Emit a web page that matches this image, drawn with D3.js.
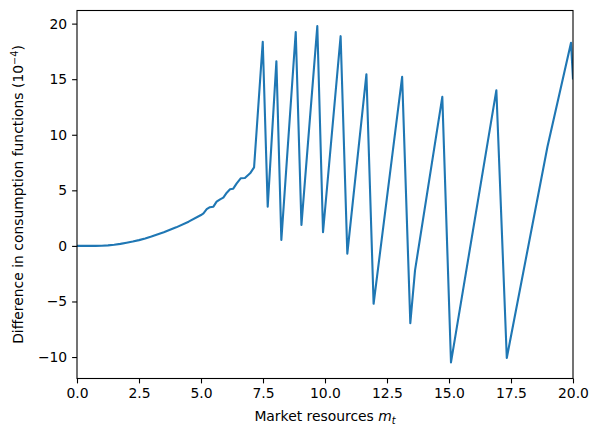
<!DOCTYPE html>
<html>
<head>
<meta charset="utf-8">
<script src="https://cdn.jsdelivr.net/npm/d3@7"></script>
<style>
  body { margin:0; background:#fff; }
  .canvas { width:597px; height:436px; }
  text { font-family:"DejaVu Sans", sans-serif; fill:#000; }
</style>
</head>
<body>
<div class="canvas" id="canvas"></div>
<script>
// values
var mValues = [0, 0.5, 0.75, 1.0, 1.25, 1.5, 1.75, 2.0, 2.25, 2.5, 2.75, 3.0, 3.5, 4.0, 4.5, 5.0,
    5.1, 5.23, 5.36, 5.5, 5.63, 5.77, 5.9, 6.04, 6.17, 6.3, 6.44, 6.6, 6.77, 6.98, 7.14,
    7.49, 7.69, 8.04, 8.24, 8.82, 9.05, 9.69, 9.92, 10.63, 10.9, 11.67, 11.96,
    13.11, 13.44, 13.63, 14.73, 15.08, 16.91, 17.33, 18.97, 19.92, 20.0];
var diffValues = [0, 0.0, 0.005, 0.02, 0.05, 0.1, 0.18, 0.28, 0.39, 0.52, 0.67, 0.84, 1.22, 1.67, 2.18, 2.78,
    2.93, 3.3, 3.48, 3.53, 3.98, 4.19, 4.34, 4.79, 5.09, 5.15, 5.63, 6.08, 6.11, 6.53, 7.07,
    18.36, 3.53, 16.62, 0.54, 19.25, 1.89, 19.77, 1.23, 18.87, -0.7, 15.45, -5.21,
    15.21, -6.95, -2.2, 13.41, -10.48, 14.01, -10.08, 8.92, 18.27, 14.98];
var xTicks = [0, 2.5, 5, 7.5, 10, 12.5, 15, 17.5, 20];
var yTicks = [-10, -5, 0, 5, 10, 15, 20];

var m = {t:10.5,r:24,b:57.5,l:77};
var outerWidth = 597,
    outerHeight = 436;
var w = outerWidth - m.l - m.r,
    h = outerHeight - m.t - m.b;

var svg = d3.select('.canvas')
    .append('svg')
    .attr('width',outerWidth)
    .attr('height',outerHeight);

var plot = svg.append('g')
    .attr('transform','translate(' + m.l + ',' + m.t + ')');

var scaleX = d3.scaleLinear()
    .domain([0,20])
    .range([0,w]);

var scaleY = d3.scaleLinear()
    .domain([-11.93,21.18])
    .range([h,0]);

var axisX = d3.axisBottom()
    .scale(scaleX)
    .tickValues(xTicks)
    .tickFormat(d3.format('.1f'))
    .tickSize(4.9)
    .tickPadding(4.9);

var axisY = d3.axisLeft()
    .scale(scaleY)
    .tickValues(yTicks)
    .tickFormat(d3.format('d'))
    .tickSize(4.9)
    .tickPadding(4.9);

var rows = mValues.map(function(d,i){ return {m:d, diff:diffValues[i]}; });

var line = d3.line()
    .x(function(d){ return scaleX(d.m); })
    .y(function(d){ return scaleY(d.diff); });

plot.append('clipPath').attr('id','clip')
    .append('rect').attr('width',w).attr('height',h);

plot.append('path')
    .datum(rows)
    .attr('clip-path','url(#clip)')
    .attr('d',line)
    .style('fill','none')
    .style('stroke','#1f77b4')
    .style('stroke-width',2.1)
    .style('stroke-linejoin','round')
    .style('stroke-linecap','butt');

var xNode = plot.append('g').attr('class','axis')
    .attr('transform','translate(0,'+h+')');
axisX(xNode);
var yNode = plot.append('g').attr('class','axis');
axisY(yNode);

plot.selectAll('.axis .domain').remove();
plot.selectAll('.axis line').style('stroke','#000').style('stroke-width',1.1);
plot.selectAll('.axis text')
    .style('font-family','"DejaVu Sans", sans-serif')
    .style('font-size','13.9px')
    .style('fill','#000');

// frame
plot.append('rect')
    .attr('width',w)
    .attr('height',h)
    .style('fill','none')
    .style('stroke','#000')
    .style('stroke-width',1.1);

// axis labels
var xLabel = svg.append('text')
    .attr('x', m.l + w/2)
    .attr('y', 421)
    .attr('text-anchor','middle')
    .style('font-size','13.9px');
xLabel.append('tspan').text('Market resources ');
xLabel.append('tspan').text('m').style('font-style','italic');
xLabel.append('tspan').text('t').style('font-style','italic')
    .style('font-size','9.7px').attr('dy','3');

var yLabel = svg.append('text')
    .attr('transform','translate(23,' + (m.t + h/2) + ') rotate(-90)')
    .attr('text-anchor','middle')
    .style('font-size','13.9px');
yLabel.append('tspan').text('Difference in consumption functions (10');
yLabel.append('tspan').text('\u22124').style('font-size','9.7px').attr('dy','-5');
yLabel.append('tspan').text(')').attr('dy','5');
</script>
</body>
</html>
